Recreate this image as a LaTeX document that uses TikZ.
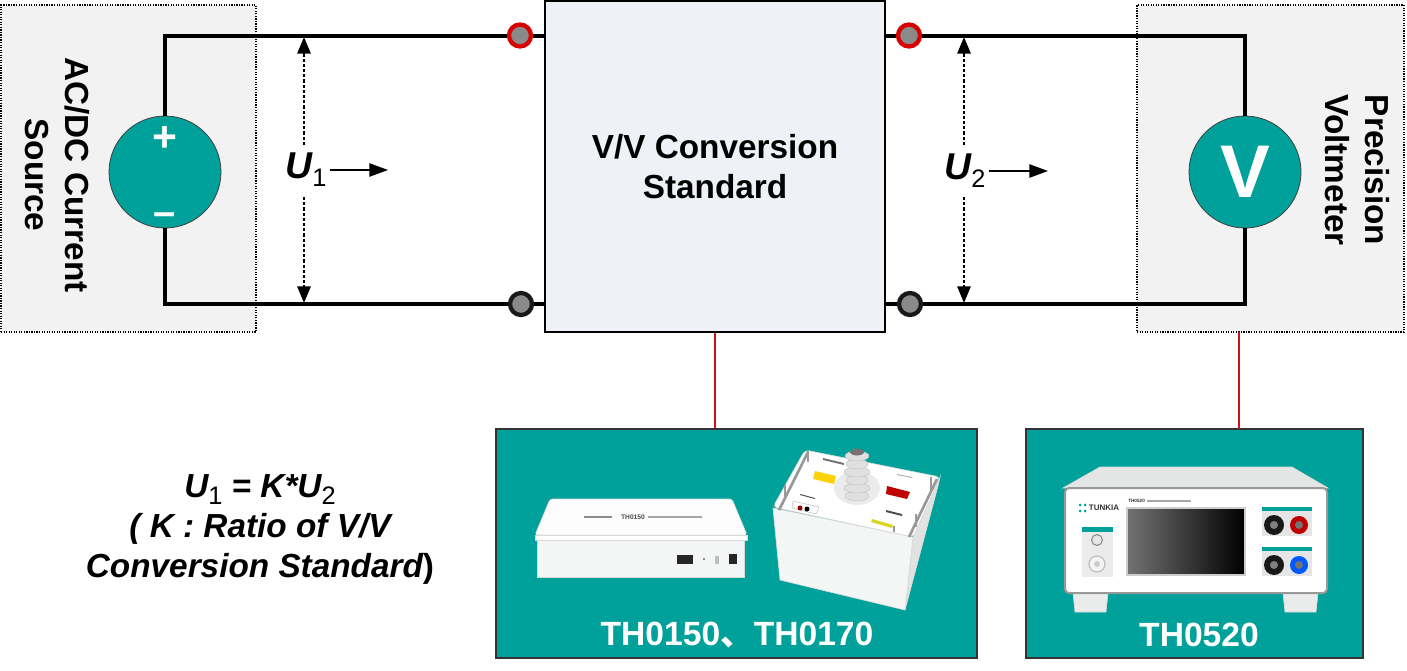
\documentclass[tikz,border=0pt]{standalone}
\usepackage{fontspec}
\setmainfont{Liberation Sans}
\newfontfamily\cjk{Noto Sans CJK SC}
\usetikzlibrary{arrows.meta,calc}

\definecolor{tealfill}{HTML}{00A19A}
\definecolor{panelgray}{HTML}{F2F2F2}
\definecolor{convfill}{HTML}{EEF1F6}
\definecolor{devwhite}{HTML}{F4F5F5}
\definecolor{devside}{HTML}{D9DBDB}
\definecolor{pingray}{HTML}{8A8A8A}
\definecolor{wirered}{HTML}{C8141A}

\tikzset{
  dotbox/.style={draw=black,densely dotted,line width=0.9pt,fill=panelgray,inner sep=0pt},
  wire/.style={line width=3pt},
  symbol/.style={circle,draw=black!75,line width=0.6pt,fill=tealfill,minimum size=84pt,inner sep=0pt},
  pinred/.style={circle,draw=red!85!black,line width=3.2pt,fill=pingray,minimum size=16.5pt,inner sep=0pt},
  pinblack/.style={circle,draw=black!90,line width=3.2pt,fill=pingray,minimum size=16.5pt,inner sep=0pt},
  volt/.style={dash pattern=on 2.4pt off 1.5pt,line width=1.4pt,-{Triangle[length=12.5pt,width=10pt]}},
  flow/.style={line width=1.1pt,-{Triangle[length=14pt,width=10pt]}},
  title/.style={font=\fontsize{25}{30}\selectfont\bfseries,align=center,inner sep=0.75pt},
  tealbox/.style={draw=black!80,line width=1pt,fill=tealfill,inner sep=0pt},
  product/.style={font=\fontsize{25.2}{30}\selectfont\bfseries,text=white,inner sep=0.75pt},
  redlink/.style={draw=wirered,line width=0.9pt},
  dev/.style={draw=devside,line width=0.5pt,fill=devwhite},
}
\newcommand{\volts}[1]{{\fontsize{28}{30}\selectfont\bfseries\itshape U}{\fontsize{19}{20}\selectfont\raisebox{-6pt}{#1}}}
\newcommand{\inlinesub}[1]{\raisebox{-5pt}{\fontsize{19}{20}\selectfont\mdseries\upshape #1}}

\begin{document}
\begin{tikzpicture}[x=0.75pt,y=0.75pt,yscale=-1,xscale=1]
\useasboundingbox (0,0) rectangle (1407,671);

%Shape: dotted panels
\node [dotbox,minimum width=191.25pt,minimum height=245.25pt] (srcpanel) at (128.5,168.5) {};
\node [dotbox,minimum width=200.25pt,minimum height=245.25pt] (metpanel) at (1270.5,168.5) {};

%Shape: conversion box
\node [draw=black,line width=1.2pt,fill=convfill,minimum width=255pt,minimum height=248.25pt,title] (conv) at (715,166.5) {V/V Conversion\\Standard};

%Shape: source and meter
\node [symbol] (source) at (165,172) {};
\node [symbol,font=\fontsize{56}{60}\selectfont\bfseries,text=white] (meter) at (1245,172) {V};
\node [font=\fontsize{32}{36}\selectfont\bfseries,text=white,inner sep=0pt] (plus) at (165,139) {+};
\node [font=\fontsize{30}{36}\selectfont\bfseries,text=white,inner sep=0pt] (minus) at (165,219) {–};

%Terminals positions
\coordinate (inhi) at (520,35.5);
\coordinate (inlo) at (521,304);
\coordinate (outhi) at (909,35.5);
\coordinate (outlo) at (910,304);

%Straight Lines: wires
\draw [wire] (source.north) |- (conv.west |- inhi);
\draw [wire] (source.south) |- (conv.west |- inlo);
\draw [wire] (meter.north) |- (conv.east |- outhi);
\draw [wire] (meter.south) |- (conv.east |- outlo);

%Terminals
\node [pinred] (pinA) at (inhi) {};
\node [pinblack] (pinB) at (inlo) {};
\node [pinred] (pinC) at (outhi) {};
\node [pinblack] (pinD) at (outlo) {};

% Text Node
\node [rotate=-90,title,align=center] (srclabel) at (57,175) {AC/DC Current\\Source};
\node [rotate=-90,title,align=center] (metlabel) at (1357,170) {Precision\\Voltmeter};
\node [inner sep=0.75pt] (uone) at (306,170) {\volts{1}};
\node [inner sep=0.75pt] (utwo) at (965,171) {\volts{2}};

%Arrow ends
\coordinate (uonetop) at (304,37);
\coordinate (uonebot) at (304,303);
\coordinate (utwotop) at (964,37);
\coordinate (utwobot) at (964,303);
\coordinate (uoneflow) at (388,170);
\coordinate (utwoflow) at (1048,171);

%Straight Lines: voltage arrows
\draw [volt] (304,145) -- (uonetop);
\draw [volt] (304,197) -- (uonebot);
\draw [volt] (964,145) -- (utwotop);
\draw [volt] (964,197) -- (utwobot);
\draw [flow] (uone.east) ++(2,0) -- (uoneflow);
\draw [flow] (utwo.east) ++(2,0) -- (utwoflow);

%Shape: product boxes
\node [tealbox,minimum width=360.75pt,minimum height=171.75pt] (boxA) at (736.5,543.5) {};
\node [tealbox,minimum width=252.75pt,minimum height=171.75pt] (boxB) at (1194.5,543.5) {};
\draw [redlink] (conv.south) -- (conv.south |- boxA.north);
\draw [redlink] (1239,332) -- (1239,429);

% Text Node
\node [product] (nameA) at (737,635) {TH0150{\cjk 、}TH0170};
\node [product] (nameB) at (1199,635) {TH0520};

% Text Node
\node [font=\fontsize{25}{30}\selectfont\bfseries\itshape,align=center,inner sep=0.75pt] (formula) at (260,529.5)
  {U\inlinesub{1} = K*U\inlinesub{2}\\( K : Ratio of V/V\\Conversion Standard{\upshape )}};

%Flat divider box
\draw [dev,fill=white!92!devside,rounded corners=2pt] (550,499) -- (732,499) -- (747,535) -- (535,535) -- cycle ;
\draw [dev,fill=white] (535,535) -- (747,535) -- (747,540) -- (535,540) -- cycle ;
\draw [dev] (537,540) -- (744,540) -- (744,577) -- (537,577) -- cycle ;
\node [font=\fontsize{5}{6}\selectfont\bfseries,text=black!70,inner sep=0pt] (capA) at (633,517) {TH0150};
\fill [black!45] (584,516) rectangle (612,518);
\fill [black!35] (648,516) rectangle (702,518);
\fill [black!85] (677,555) rectangle (693,564);
\fill [black!85] (729,554) rectangle (737,564);
\fill [black!45] (703,558) rectangle (705,560);
\fill [black!25] (715,556) rectangle (719,564);

%High voltage box
\draw [dev,fill=devside!80] (913,537) -- (940,477) -- (938,486) -- (905,610) -- cycle ;
\draw [dev] (773,508) -- (780,580) -- (905,610) -- (913,537) -- cycle ;
\draw [dev,fill=white,rounded corners=3pt] (805,450) -- (940,477) -- (913,537) -- (773,507) -- cycle ;
\draw [line width=2pt,black!40] (808,452) -- (779,510);
\draw [line width=2pt,black!40] (937,479) -- (909,537);
\draw [line width=1.5pt,black!40] (808,451) -- (808,462);
\draw [line width=1.5pt,black!40] (785,485) -- (785,497);
\draw [line width=1.5pt,black!40] (931,477) -- (931,490);
\draw [line width=1.5pt,black!40] (916,514) -- (916,527);
\draw [line width=1.5pt,black!40] (894,526) -- (894,532);
\fill [black!8] (857,488) ellipse (23 and 17);
\foreach \ypos/\wid in {496/12,488/13,480/11,472/13,464/11,456/12}
  \filldraw [fill=white!88!black,draw=black!25,line width=0.3pt] (857,\ypos) ellipse ({\wid} and 5);
\fill [black!55] (857,452) ellipse (7 and 3.5);
\fill [red!75!black] (887,486) -- (910,492) -- (907,499) -- (886,494) -- cycle;
\fill [yellow!70!orange] (815,471) -- (836,476) -- (834,484) -- (813,479) -- cycle;
\fill [yellow!85!black] (872,519) -- (893,525) -- (892,528) -- (871,522) -- cycle;
\draw [black!30,fill=white,line width=0.3pt] (793,501) -- (819,507) -- (816,514) -- (792,508) -- cycle;
\fill [red!60!black] (800,508) circle (2.5);
\fill [black] (807,509) circle (2.5);
\fill [black!70] (800,494) -- (815,498) -- (815,499) -- (800,495) -- cycle;
\fill [black!70] (886,510) -- (902,514) -- (902,516) -- (886,512) -- cycle;
\fill [black!55] (823,458) -- (844,463) -- (844,465) -- (823,460) -- cycle;
\fill [black!30] (897,474) -- (912,477) -- (912,478) -- (897,475) -- cycle;

%Instrument body
\draw [dev,fill=devside!55] (1073,593) -- (1108,593) -- (1106,612) -- (1075,612) -- cycle ;
\draw [dev,fill=devside!55] (1283,593) -- (1318,593) -- (1316,612) -- (1285,612) -- cycle ;
\draw [dev,fill=devside!70] (1100,467) -- (1292,467) -- (1328,488) -- (1063,488) -- cycle ;
\draw [draw=black!40,line width=1.5pt,fill=white,rounded corners=3pt] (1065,488) rectangle (1327,593);
\node [font=\fontsize{6}{7}\selectfont\bfseries,text=black!80,inner sep=0pt] (brand) at (1104,508) {TUNKIA};
\fill [tealfill] (1080,505) circle (1.5) (1085,505) circle (1.5) (1080,511) circle (1.5) (1085,511) circle (1.5);
\node [font=\fontsize{3.5}{4}\selectfont\bfseries,text=black!80,anchor=west,inner sep=0pt] (capB) at (1128,501) {TH0520};
\fill [black!35] (1147,500) rectangle (1191,502);
\draw [black!20,line width=1pt,left color=black!55,middle color=black!92,right color=black] (1127,508) rectangle (1245,575);
%Left panel
\fill [black!8] (1082,527) rectangle (1113,577);
\fill [tealfill] (1082,527) rectangle (1113,532);
\draw [black!45,fill=black!10,line width=0.8pt] (1097,540) circle (5.5);
\draw [black!25,fill=black!4,line width=1pt] (1097,564) circle (8);
\fill [black!20] (1097,564) circle (3);
%Right panels
\foreach \ytop/\pincol in {507/red!75!black,547/blue!65!cyan}{
  \fill [black!10] (1262,\ytop) rectangle (1312,\ytop+29);
  \fill [tealfill] (1262,\ytop) rectangle (1312,\ytop+4);
  \fill [black!90] (1274,\ytop+18) circle (10);
  \fill [black!50] (1274,\ytop+18) circle (4);
  \fill [\pincol] (1299,\ytop+18) circle (9);
  \fill [black!55] (1299,\ytop+18) circle (4);
}

\end{tikzpicture}
\end{document}
